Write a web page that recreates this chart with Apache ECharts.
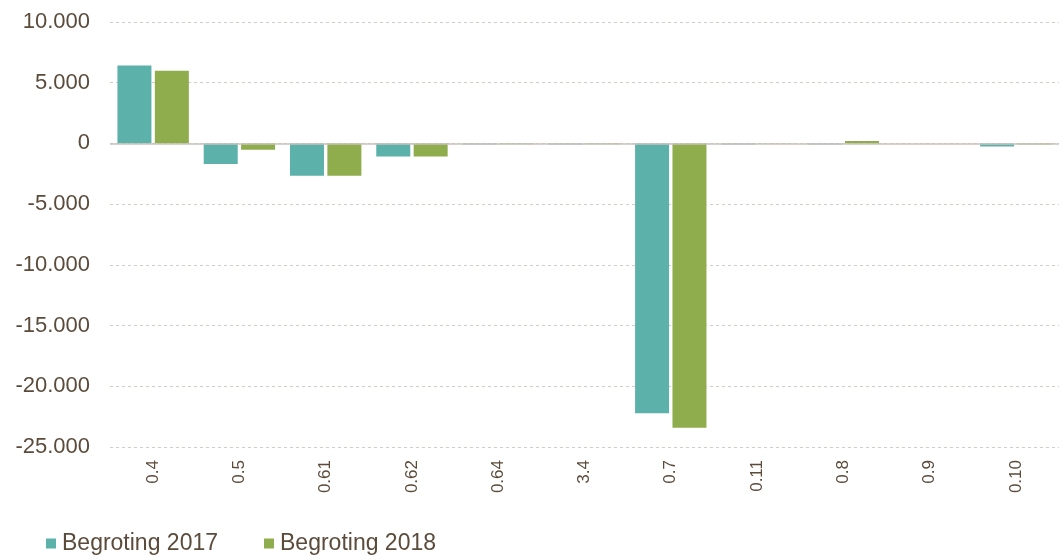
<!DOCTYPE html>
<html>
<head>
<meta charset="utf-8">
<script src="https://cdn.jsdelivr.net/npm/echarts@6/dist/echarts.min.js"></script>
<style>
  html, body { margin: 0; padding: 0; background: #fff; }
  #chart { width: 1059px; height: 555px; }
</style>
</head>
<body>
<div id="chart"></div>
<script>
var categories = ['0.4', '0.5', '0.61', '0.62', '0.64', '3.4', '0.7', '0.11', '0.8', '0.9', '0.10'];
var begroting2017 = [6420, -1700, -2670, -1080, -80, -80, -22230, -80, -80, 0, -250];
var begroting2018 = [5980, -530, -2670, -1080, -60, -60, -23420, -30, 200, 0, -80];
var seriesNames = ['Begroting 2017', 'Begroting 2018'];

var textColor = '#5b4b3b';
var font = 'Liberation Sans, Arial, sans-serif';

var myChart = echarts.init(document.getElementById('chart'));

function fmt(v) {
  var s = String(Math.abs(v)).replace(/\B(?=(\d{3})+(?!\d))/g, '.');
  return (v < 0 ? '-' : '') + s;
}

var option = {
  backgroundColor: '#fff',
  animation: false,
  textStyle: { fontFamily: font },
  legend: {
    data: seriesNames,
    left: 41,
    top: 527,
    icon: 'rect',
    itemWidth: 10,
    itemHeight: 10,
    itemGap: 46,
    textStyle: { color: textColor, fontSize: 23, fontFamily: font, padding: [0, 0, 0, 1] }
  },
  grid: {
    left: 110,
    right: 0,
    top: 22,
    height: 425
  },
  xAxis: {
    type: 'category',
    data: categories,
    axisLine: { show: false, onZero: false },
    axisTick: { show: false },
    axisLabel: {
      rotate: 90,
      margin: 13,
      color: textColor,
      fontSize: 17,
      fontFamily: font
    }
  },
  yAxis: {
    type: 'value',
    min: -25000,
    max: 10000,
    interval: 5000,
    axisLine: { show: false },
    axisTick: { show: false },
    axisLabel: {
      color: textColor,
      fontSize: 22,
      margin: 20,
      fontFamily: font,
      formatter: fmt
    },
    splitLine: {
      lineStyle: { color: '#d3cdc4', type: [3, 3], width: 1 }
    }
  },
  series: [
    {
      name: seriesNames[0],
      type: 'bar',
      barWidth: 34,
      barGap: '10%',
      itemStyle: { color: '#5cb1aa' },
      data: begroting2017,
      markLine: {
        silent: true,
        symbol: 'none',
        label: { show: false },
        lineStyle: { color: '#c8c2bb', type: 'solid', width: 1.5 },
        data: [{ yAxis: 0 }]
      }
    },
    {
      name: seriesNames[1],
      type: 'bar',
      barWidth: 34,
      itemStyle: { color: '#8fad4c' },
      data: begroting2018
    }
  ]
};

myChart.setOption(option);
</script>
</body>
</html>
